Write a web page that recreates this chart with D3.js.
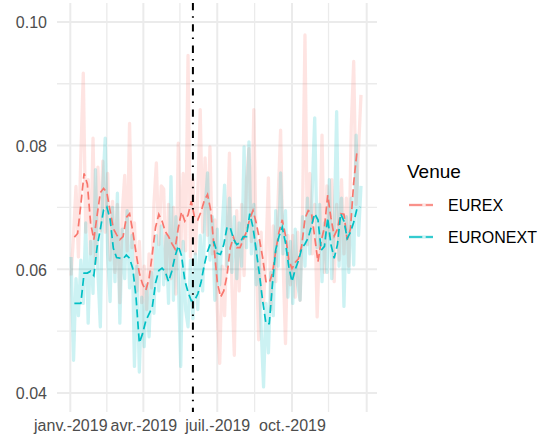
<!DOCTYPE html>
<html>
<head>
<meta charset="utf-8">
<script src="https://cdn.jsdelivr.net/npm/d3@7"></script>
<style>
  body { margin: 0; background: #fff; }
  svg { display: block; font-family: "Liberation Sans", Arial, sans-serif; }
</style>
</head>
<body>
<svg id="chart" width="550" height="442"></svg>
<script>
// ---- data ----
const venues = ["EUREX", "EURONEXT"];
const venueColors = ["#F8766D", "#00BFC4"];

// daily spread observations, one every 3 calendar days from dailyStart
const dailyStart = "2019-01-02";
const dailyStepDays = 3;
const eurexDaily = [
  0.059, 0.0655, 0.0734, 0.062, 0.0785, 0.0917, 0.066, 0.0745, 0.0625, 0.0812,
  0.061, 0.0765, 0.0662, 0.0775, 0.066, 0.0755, 0.0615, 0.071, 0.0595, 0.0705,
  0.0546, 0.069, 0.0752, 0.063, 0.0836, 0.0635, 0.0675, 0.0565, 0.0645, 0.0546,
  0.0605, 0.0535, 0.0625, 0.057, 0.0705, 0.0772, 0.064, 0.0735, 0.073, 0.0585,
  0.0705, 0.0585, 0.07, 0.056, 0.0804, 0.063, 0.0755, 0.063, 0.0946, 0.062,
  0.0745, 0.0625, 0.072, 0.0858, 0.066, 0.078, 0.0655, 0.0798, 0.0625, 0.068,
  0.0535, 0.0448, 0.0605, 0.0525, 0.0655, 0.0788, 0.0575, 0.0461, 0.0695, 0.0565,
  0.0705, 0.059, 0.0745, 0.0795, 0.0645, 0.0858, 0.063, 0.0486, 0.066, 0.0545,
  0.0625, 0.0748, 0.0535, 0.067, 0.058, 0.0715, 0.0825, 0.0615, 0.048, 0.0655,
  0.0575, 0.0655, 0.0555, 0.066, 0.055, 0.069, 0.0979, 0.064, 0.0755, 0.0625,
  0.0705, 0.0523, 0.0645, 0.0817, 0.0595, 0.0735, 0.0655, 0.0745, 0.058, 0.0705,
  0.0615, 0.0745, 0.0625, 0.0715, 0.0605, 0.083, 0.0936, 0.0705, 0.0795, 0.0882
];
const euronextDaily = [
  0.062, 0.0453, 0.0585, 0.0525, 0.0615, 0.0545, 0.0675, 0.0513, 0.0645, 0.0561,
  0.0761, 0.0595, 0.0507, 0.0735, 0.0812, 0.0625, 0.0548, 0.07, 0.058, 0.0723,
  0.0513, 0.0665, 0.0585, 0.0695, 0.057, 0.0655, 0.0443, 0.0605, 0.0434, 0.0555,
  0.0475, 0.0575, 0.0491, 0.0595, 0.0529, 0.0655, 0.0565, 0.067, 0.0575, 0.0655,
  0.0545, 0.075, 0.055, 0.0685, 0.0585, 0.0443, 0.0645, 0.0535, 0.0507, 0.0615,
  0.052, 0.0625, 0.0535, 0.0655, 0.0565, 0.0695, 0.0756, 0.0615, 0.0685, 0.055,
  0.0665, 0.0575, 0.0665, 0.0736, 0.0605, 0.0715, 0.0595, 0.0685, 0.0585, 0.0675,
  0.0605, 0.0798, 0.0635, 0.0806, 0.0625, 0.0705, 0.0575, 0.0645, 0.0505, 0.041,
  0.0545, 0.0465, 0.0595, 0.0525, 0.0695, 0.0605, 0.0756, 0.0625, 0.0695, 0.0555,
  0.0645, 0.0545, 0.0665, 0.0575, 0.055, 0.0685, 0.0605, 0.0715, 0.0625, 0.073,
  0.0845, 0.0635, 0.0705, 0.058, 0.0675, 0.0595, 0.0745, 0.0585, 0.0665, 0.0855,
  0.0605, 0.0715, 0.054, 0.0685, 0.0595, 0.0715, 0.0607, 0.0817, 0.0655, 0.0735
];

// rolling averages, one every 4 calendar days from avgStart
const avgStart = "2019-01-06";
const avgStepDays = 4;
const eurexAvg = [
  0.0652, 0.0658, 0.0705, 0.0755, 0.0738, 0.0675, 0.0648, 0.0687, 0.0724, 0.0731,
  0.0724, 0.0695, 0.0666, 0.0656, 0.0648, 0.0653, 0.0684, 0.069, 0.0661, 0.0626,
  0.0594, 0.0576, 0.0566, 0.0585, 0.0625, 0.0668, 0.0689, 0.0678, 0.0661, 0.0653,
  0.0642, 0.0633, 0.0667, 0.0693, 0.0678, 0.0688, 0.071, 0.0684, 0.068, 0.0693,
  0.0711, 0.0721, 0.0695, 0.0636, 0.058, 0.0555, 0.0565, 0.059, 0.0635, 0.0652,
  0.0635, 0.0635, 0.0648, 0.0661, 0.0682, 0.0695, 0.0675, 0.0648, 0.0618, 0.058,
  0.0578, 0.0594, 0.063, 0.066, 0.068, 0.0655, 0.0616, 0.0601, 0.0611, 0.0617,
  0.0638, 0.0682, 0.0695, 0.0691, 0.0652, 0.0612, 0.0646, 0.0668, 0.072, 0.0683,
  0.0654, 0.0665, 0.069, 0.0689, 0.0648, 0.0665, 0.074, 0.079
];
const euronextAvg = [
  0.0545, 0.0545, 0.0545, 0.0594, 0.0594, 0.0597, 0.059, 0.0636, 0.0665, 0.0696,
  0.0701, 0.0681, 0.0634, 0.0619, 0.0618, 0.0617, 0.0623, 0.0618, 0.0601, 0.0554,
  0.0481, 0.0496, 0.0517, 0.0528, 0.0539, 0.0578, 0.0598, 0.0602, 0.0596, 0.058,
  0.0597, 0.0621, 0.0638, 0.0622, 0.0582, 0.0563, 0.0549, 0.055, 0.056, 0.0579,
  0.0607, 0.0629, 0.0643, 0.0644, 0.0626, 0.0624, 0.064, 0.0668, 0.0667, 0.0649,
  0.064, 0.0643, 0.0653, 0.0653, 0.069, 0.0668, 0.063, 0.0591, 0.0548, 0.0512,
  0.0512, 0.0577, 0.0632, 0.0653, 0.0668, 0.0643, 0.0605, 0.058, 0.06, 0.0614,
  0.0634, 0.0641, 0.0651, 0.067, 0.069, 0.068, 0.0631, 0.0637, 0.0683, 0.064,
  0.0618, 0.064, 0.069, 0.0678, 0.065, 0.066, 0.0676, 0.0698, 0.0701
];

const eventDate = "2019-06-01";
const xTickDates = ["2019-01-01", "2019-04-01", "2019-07-01", "2019-10-01"];
const xTickLabels = ["janv.-2019", "avr.-2019", "juil.-2019", "oct.-2019"];
const xExtraMajor = ["2020-01-01"];
const xMinorDates = ["2019-02-15", "2019-05-16", "2019-08-16", "2019-11-15"];
const yTicks = [0.04, 0.06, 0.08, 0.10];
const yMinor = [0.05, 0.07, 0.09];
const legendTitle = "Venue";

// ---- setup ----
const parse = d3.utcParse("%Y-%m-%d");
const svg = d3.select("#chart");
const panel = { left: 57, right: 377, top: 3, bottom: 412 };

const x = d3.scaleUtc()
  .domain([new Date(Date.UTC(2018, 11, 15, 15)), new Date(Date.UTC(2020, 0, 13, 17))])
  .range([panel.left, panel.right]);
const y = d3.scaleLinear()
  .domain([0.03693, 0.10306])
  .range([panel.bottom, panel.top]);

const toSeries = (start, step, values) =>
  values.map((v, i) => ({ date: d3.utcDay.offset(parse(start), i * step), value: v }));

const daily = [toSeries(dailyStart, dailyStepDays, eurexDaily),
               toSeries(dailyStart, dailyStepDays, euronextDaily)];
const avgs = [toSeries(avgStart, avgStepDays, eurexAvg),
              toSeries(avgStart, avgStepDays, euronextAvg)];

// ---- grid ----
const grid = svg.append("g");
const gridColor = "#ebebeb";
xMinorDates.forEach(d => grid.append("line")
  .attr("x1", x(parse(d))).attr("x2", x(parse(d)))
  .attr("y1", panel.top).attr("y2", panel.bottom)
  .attr("stroke", gridColor).attr("stroke-width", 1.3));
yMinor.forEach(v => grid.append("line")
  .attr("x1", panel.left).attr("x2", panel.right)
  .attr("y1", y(v)).attr("y2", y(v))
  .attr("stroke", gridColor).attr("stroke-width", 1.3));
xTickDates.concat(xExtraMajor).forEach(d => grid.append("line")
  .attr("x1", x(parse(d))).attr("x2", x(parse(d)))
  .attr("y1", panel.top).attr("y2", panel.bottom)
  .attr("stroke", gridColor).attr("stroke-width", 2));
yTicks.forEach(v => grid.append("line")
  .attr("x1", panel.left).attr("x2", panel.right)
  .attr("y1", y(v)).attr("y2", y(v))
  .attr("stroke", gridColor).attr("stroke-width", 2));

// ---- series ----
const line = d3.line().x(d => x(d.date)).y(d => y(d.value));

const faint = svg.append("g");
daily.forEach((s, i) => faint.append("path")
  .attr("d", line(s))
  .attr("fill", "none")
  .attr("stroke", venueColors[i])
  .attr("stroke-opacity", 0.2)
  .attr("stroke-width", 3.3)
  .attr("stroke-linejoin", "round"));

const dashed = svg.append("g");
avgs.forEach((s, i) => dashed.append("path")
  .attr("d", line(s))
  .attr("fill", "none")
  .attr("stroke", venueColors[i])
  .attr("stroke-width", 1.7)
  .attr("stroke-dasharray", "8,4"));

// event marker
svg.append("line")
  .attr("x1", x(parse(eventDate))).attr("x2", x(parse(eventDate)))
  .attr("y1", panel.top).attr("y2", panel.bottom)
  .attr("stroke", "#000").attr("stroke-width", 2)
  .attr("stroke-dasharray", "7.3,6,1.5,6.5");

// ---- axes ----
const yAxis = svg.append("g")
  .attr("transform", `translate(${panel.left - 10},0)`)
  .call(d3.axisLeft(y).tickValues(yTicks).tickFormat(d3.format(".2f")).tickSize(0));
yAxis.select(".domain").remove();
yAxis.selectAll("text")
  .attr("x", 0).attr("dy", "0.36em")
  .attr("fill", "#4d4d4d").style("font-size", "16px")
  .style("font-family", '"Liberation Sans", Arial, sans-serif');

const xAxis = svg.append("g")
  .attr("transform", `translate(0,${panel.bottom})`)
  .call(d3.axisBottom(x).tickValues(xTickDates.map(parse))
    .tickFormat((d, i) => xTickLabels[i]).tickSize(0));
xAxis.select(".domain").remove();
xAxis.selectAll("text")
  .attr("y", 8).attr("dy", "0.71em")
  .attr("fill", "#4d4d4d").style("font-size", "16px")
  .style("font-family", '"Liberation Sans", Arial, sans-serif');

// ---- legend ----
const legend = svg.append("g");
legend.append("text")
  .attr("x", 407).attr("y", 178)
  .attr("fill", "#000").style("font-size", "19px")
  .text(legendTitle);
venues.forEach((name, i) => {
  const ky = 205 + i * 32;
  legend.append("line")
    .attr("x1", 409).attr("x2", 433).attr("y1", ky).attr("y2", ky)
    .attr("stroke", venueColors[i]).attr("stroke-opacity", 0.2).attr("stroke-width", 3.3);
  legend.append("line")
    .attr("x1", 409).attr("x2", 433).attr("y1", ky).attr("y2", ky)
    .attr("stroke", venueColors[i]).attr("stroke-width", 1.7)
    .attr("stroke-dasharray", "13.3,3.4");
  legend.append("text")
    .attr("x", 448).attr("y", ky).attr("dy", "0.36em")
    .attr("fill", "#000").style("font-size", "16px")
    .text(name);
});
</script>
</body>
</html>
